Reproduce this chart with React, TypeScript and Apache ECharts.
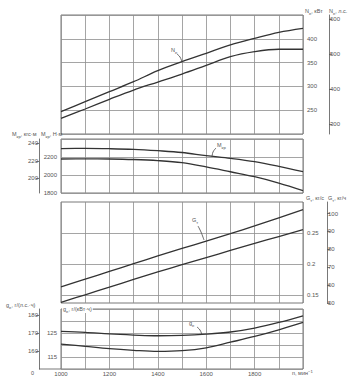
import React, { useEffect, useRef } from 'react';
import * as echarts from 'echarts';

// ---- data ----
const rpm = [1000, 1100, 1200, 1300, 1400, 1500, 1600, 1700, 1800, 1900, 2000];
const powerUpper = [246.9, 267.9, 288.9, 309.9, 333, 351.9, 369.5, 387, 401, 413.6, 422];
const powerLower = [233, 252.5, 272.9, 292.4, 309.2, 326, 344.3, 362.4, 372.9, 378, 378];
const torqueUpper = [2294, 2295, 2292, 2285, 2270, 2250, 2215, 2185, 2148, 2096, 2037];
const torqueLower = [2178, 2180, 2178, 2172, 2160, 2137, 2090, 2036, 1981, 1910, 1826];
const fuelUpper = [0.163, 0.1755, 0.188, 0.2005, 0.213, 0.225, 0.237, 0.249, 0.2615, 0.2745, 0.2876];
const fuelLower = [0.138, 0.1503, 0.1626, 0.175, 0.1872, 0.1988, 0.2103, 0.2218, 0.2333, 0.2443, 0.2553];
const sfcUpper = [171.1, 170.6, 169.7, 169.1, 168.7, 168.9, 169.6, 170.8, 173, 176.1, 179.8];
const sfcLower = [164.1, 162.8, 161.5, 160.6, 160, 160.4, 162, 165.1, 168.3, 172, 176.1];

// ---- tick labels ----
const rpmLabels = [1000, 1200, 1400, 1600, 1800];
const hpTicks = [300, 400, 500, 600];
const kgfTicks = [200, 220, 240];
const fuelKgsTicks = [0.15, 0.2, 0.25];
const fuelKghTicks = [50, 60, 70, 80, 90, 100];
const sfcHpTicks = [160, 170, 180];
const sfcKwLabels = [115, 125];

const FONT = '"Liberation Sans", Arial, sans-serif';
const TXT = '#555';
const GRID = '#8e8e8e';
const FRAME = '#555';
const CURVE = '#333';
const FS = 6;
const NFS = 5.5;

const plain = (v: number) => String(v);
const lbl = (extra: any = {}) => ({ fontSize: FS, color: TXT, fontFamily: FONT, formatter: plain, ...extra });

function xAxisFor(gridIndex: number, showLabels: boolean) {
  return {
    type: 'value',
    gridIndex,
    min: 1000,
    max: 2000,
    interval: 100,
    axisLine: { show: false },
    axisTick: { show: false },
    splitLine: { show: true, lineStyle: { color: GRID, width: 0.8 } },
    axisLabel: showLabels
      ? lbl({ show: true, margin: 2, formatter: (v: number) => (rpmLabels.includes(v) ? String(v) : '') })
      : { show: false },
  };
}

function outerAxis(gridIndex: number, position: string, offset: number, min: number, max: number, ticks: number[]) {
  return {
    type: 'value',
    gridIndex,
    position,
    offset,
    min,
    max,
    axisLine: { show: true, lineStyle: { color: FRAME, width: 0.8 } },
    axisTick: { show: true, length: 3, customValues: ticks, lineStyle: { color: FRAME, width: 0.8 } },
    axisLabel: lbl({ customValues: ticks, margin: 1 }),
    splitLine: { show: false },
  };
}

const rich = {
  n: { fontSize: NFS, fill: TXT, fontFamily: FONT, lineHeight: 8 },
  s: { fontSize: 4.2, fill: TXT, fontFamily: FONT, lineHeight: 8, verticalAlign: 'bottom', padding: [3, 0, 0, 0] },
  p: { fontSize: 4.2, fill: TXT, fontFamily: FONT, lineHeight: 8, verticalAlign: 'top', padding: [0, 0, 3, 0] },
};

function txt(x: number, y: number, text: string, bg = false) {
  return {
    type: 'text',
    x,
    y,
    z: 10,
    style: {
      text,
      rich,
      fill: TXT,
      font: `${NFS}px ${FONT}`,
      align: 'left',
      verticalAlign: 'middle',
      backgroundColor: bg ? '#fff' : undefined,
      padding: bg ? [0, 1] : 0,
    },
  };
}

function leader(points: number[][]) {
  return { type: 'polyline', z: 10, shape: { points, smooth: 0.4 }, style: { stroke: '#444', lineWidth: 0.8, fill: 'none' } };
}

function lineSeries(xi: number, yi: number, vals: number[]) {
  return {
    type: 'line',
    xAxisIndex: xi,
    yAxisIndex: yi,
    data: rpm.map((n, i) => [n, vals[i]]),
    smooth: 0.35,
    symbol: 'none',
    lineStyle: { color: CURVE, width: 1.3 },
    z: 5,
  };
}

export default function App() {
  const ref = useRef<HTMLDivElement>(null);
  useEffect(() => {
    if (!ref.current) return;
    const chart = echarts.init(ref.current, undefined, { renderer: 'svg' });
    const gridBase = { left: 61, right: 48, show: true, borderColor: FRAME, borderWidth: 0.8, containLabel: false };
    chart.setOption({
      animation: false,
      backgroundColor: '#fff',
      grid: [
        { ...gridBase, top: 15, height: 119 },
        { ...gridBase, top: 139, height: 54 },
        { ...gridBase, top: 202, height: 101 },
        { ...gridBase, top: 309, height: 60 },
      ],
      xAxis: [xAxisFor(0, false), xAxisFor(1, false), xAxisFor(2, false), xAxisFor(3, true)],
      yAxis: [
        {
          type: 'value', gridIndex: 0, position: 'right', min: 200, max: 450, interval: 50,
          axisLine: { show: false }, axisTick: { show: false },
          axisLabel: lbl({ margin: 4, showMinLabel: false, showMaxLabel: false }),
          splitLine: { show: true, lineStyle: { color: GRID, width: 0.8 } },
        },
        outerAxis(0, 'right', 26, 272, 612, hpTicks),
        {
          type: 'value', gridIndex: 1, position: 'left', min: 1800, max: 2400, interval: 200,
          axisLine: { show: false }, axisTick: { show: false },
          axisLabel: lbl({ margin: 4, showMaxLabel: false }),
          splitLine: { show: true, lineStyle: { color: GRID, width: 0.8 } },
        },
        outerAxis(1, 'left', 22, 1800 / 9.80665, 2400 / 9.80665, kgfTicks),
        {
          type: 'value', gridIndex: 2, position: 'right', min: 0.137, max: 0.3,
          axisLine: { show: false }, axisTick: { show: false, customValues: fuelKgsTicks },
          axisLabel: lbl({ margin: 4, customValues: fuelKgsTicks }),
          splitLine: { show: true, lineStyle: { color: GRID, width: 0.8 } },
        },
        outerAxis(2, 'right', 24, 50, 106.5, fuelKghTicks),
        {
          type: 'value', gridIndex: 3, position: 'left', min: 110, max: 135, interval: 5,
          axisLine: { show: false }, axisTick: { show: false },
          axisLabel: lbl({ margin: 4, formatter: (v: number) => (sfcKwLabels.includes(v) ? String(v) : '') }),
          splitLine: { show: true, lineStyle: { color: GRID, width: 0.8 } },
        },
        outerAxis(3, 'left', 22, 150.2, 183.6, sfcHpTicks),
      ],
      series: [
        lineSeries(0, 0, powerUpper),
        lineSeries(0, 0, powerLower),
        lineSeries(1, 2, torqueUpper),
        lineSeries(1, 2, torqueLower),
        lineSeries(2, 4, fuelUpper),
        lineSeries(2, 4, fuelLower),
        lineSeries(3, 7, sfcUpper),
        lineSeries(3, 7, sfcLower),
      ],
      graphic: [
        txt(305, 11, '{n|N}{s|e}{n|, кВт}'),
        txt(329, 11, '{n|N}{s|e}{n|, л.с.}'),
        txt(12, 134, '{n|M}{s|кр}{n|, кгс·м}'),
        txt(41, 134, '{n|M}{s|кр}{n|, Н·м}'),
        txt(306, 198, '{n|G}{s|т}{n|, кг/с}'),
        txt(328, 198, '{n|G}{s|т}{n|, кг/ч}'),
        txt(6, 305, '{n|g}{s|e}{n|, г/(л.с.·ч)}'),
        txt(62, 309, '{n|g}{s|e}{n|, г/(кВт·ч)}', true),
        txt(292, 373, '{n|n, мин}{p|−1}'),
        txt(31, 373, '{n|0}'),
        txt(171, 50, '{n|N}{s|e}'),
        txt(217, 145, '{n|M}{s|кр}'),
        txt(192, 220, '{n|G}{s|т}'),
        txt(189, 323, '{n|g}{s|e}'),
        leader([[177, 54], [180, 57], [182, 62]]),
        leader([[216, 148], [213, 152], [212, 157]]),
        leader([[198, 226], [201, 232], [204, 240]]),
        leader([[197, 327], [200, 330], [202, 335]]),
        { type: 'line', shape: { x1: 39, y1: 369, x2: 61, y2: 369 }, style: { stroke: FRAME, lineWidth: 0.8 } },
      ],
    });
    return () => chart.dispose();
  }, []);
  return <div ref={ref} style={{ position: 'fixed', left: 0, top: 0, width: 351, height: 381 }} />;
}
